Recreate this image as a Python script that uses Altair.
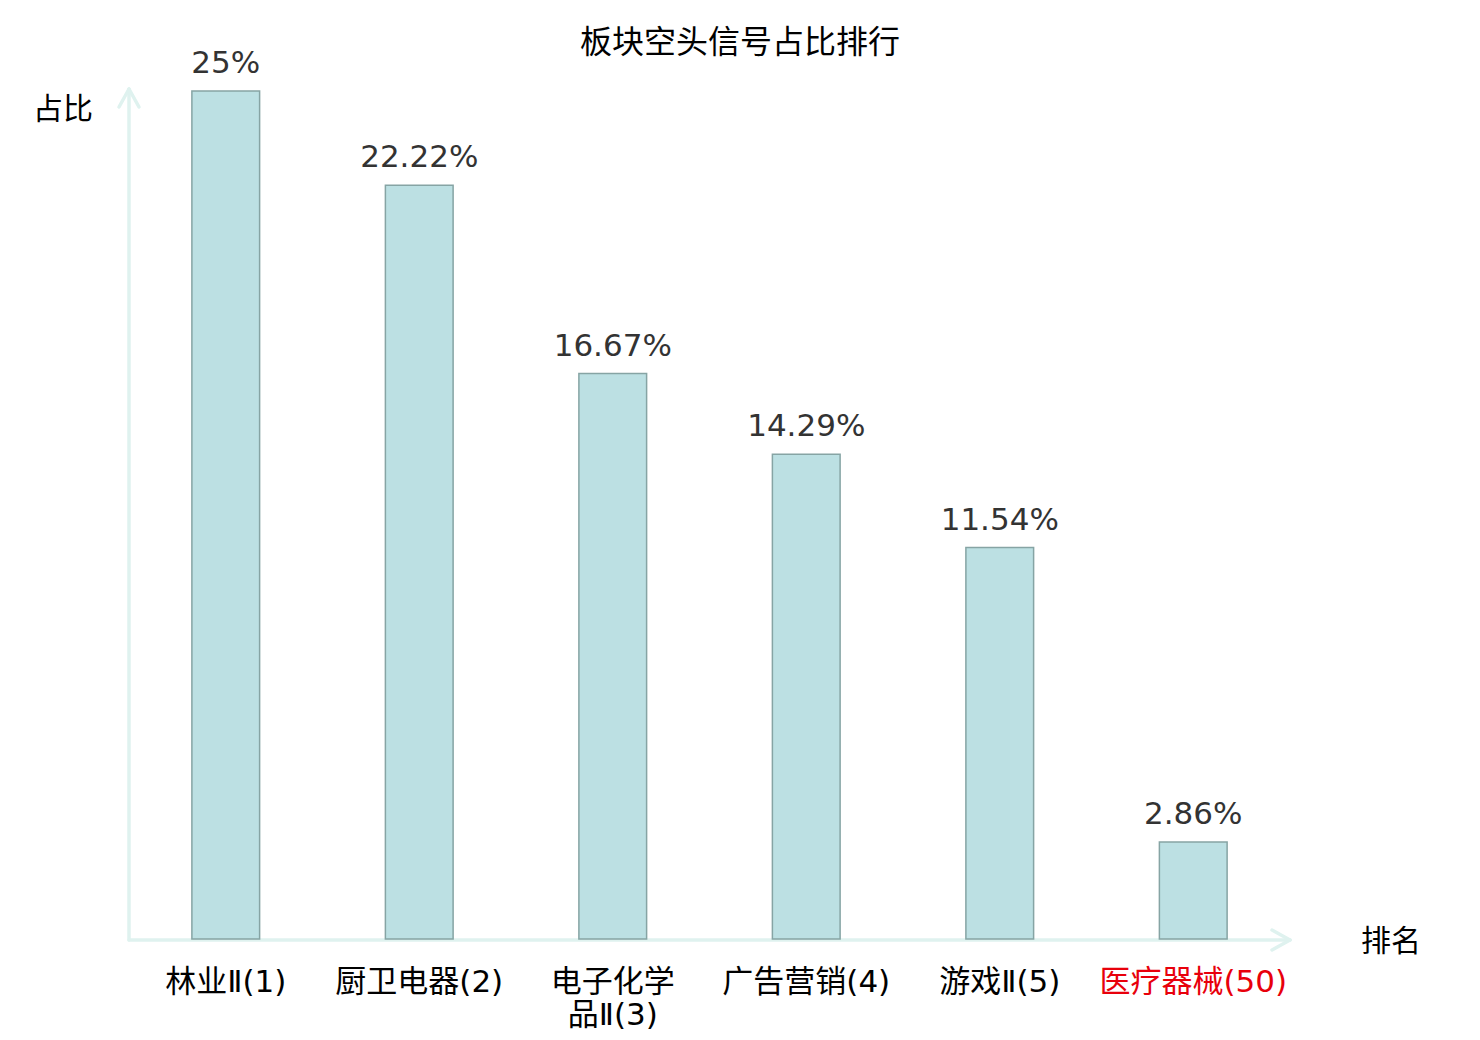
import altair as alt
import pandas as pd

categories = ["林业Ⅱ(1)", "厨卫电器(2)", "电子化学品Ⅱ(3)", "广告营销(4)", "游戏Ⅱ(5)", "医疗器械(50)"]
tick_labels = ["林业Ⅱ(1)", "厨卫电器(2)", "电子化学\n品Ⅱ(3)", "广告营销(4)", "游戏Ⅱ(5)", "医疗器械(50)"]
values = [25, 22.22, 16.67, 14.29, 11.54, 2.86]
value_labels = ["25%", "22.22%", "16.67%", "14.29%", "11.54%", "2.86%"]
label_colors = ["#000000", "#000000", "#000000", "#000000", "#000000", "#e8000b"]

title_text = "板块空头信号占比排行"
y_title = "占比"
x_title = "排名"

FONT = "DejaVu Sans, Noto Sans CJK SC"
W, H = 1161, 848
AXIS_COLOR = "#dff2ef"

df = pd.DataFrame({
    "cat": categories,
    "tick": tick_labels,
    "value": values,
    "vlabel": value_labels,
    "lcolor": label_colors,
})

xs = alt.X("cat:N", sort=categories,
           scale=alt.Scale(paddingInner=0.65, paddingOuter=0.325), axis=None)
ys = alt.Y("value:Q", scale=alt.Scale(domain=[0, 25], nice=False, zero=True), axis=None)

base = alt.Chart(df)

bars = base.mark_bar(fill="#bce0e3", stroke="#86a4a4", strokeWidth=1.5).encode(x=xs, y=ys)

vals = base.mark_text(font=FONT, fontSize=31, color="#333333", baseline="alphabetic", dy=-18).encode(
    x=xs, y=ys, text="vlabel:N")

ticks = base.mark_text(font=FONT, fontSize=31, baseline="top", dy=29, lineBreak="\n", lineHeight=33).encode(
    x=xs, y=alt.datum(0, type="quantitative"), text="tick:N",
    color=alt.Color("lcolor:N", scale=None))

one = pd.DataFrame({"a": [0]})
ob = alt.Chart(one)

def rule(x1, y1, x2, y2):
    return ob.mark_rule(color=AXIS_COLOR, strokeWidth=3.5, strokeCap="round").encode(
        x=alt.value(x1), x2=alt.value(x2), y=alt.value(y1), y2=alt.value(y2))

axes = [
    rule(0, H + 1, 0, -2),
    rule(-10, 16, 0, -2),
    rule(10, 16, 0, -2),
    rule(0, H + 1, W, H + 1),
    rule(W - 18, H - 9, W, H + 1),
    rule(W - 18, H + 11, W, H + 1),
]

title = ob.mark_text(font=FONT, fontSize=32, color="#000000", baseline="middle", align="center").encode(
    x=alt.value(611), y=alt.value(-48), text=alt.value(title_text))
ytitle = ob.mark_text(font=FONT, fontSize=30, color="#000000", baseline="middle", align="center").encode(
    x=alt.value(-66), y=alt.value(19), text=alt.value(y_title))
xtitle = ob.mark_text(font=FONT, fontSize=30, color="#000000", baseline="middle", align="center").encode(
    x=alt.value(1262), y=alt.value(851), text=alt.value(x_title))

chart = alt.layer(*axes, bars, vals, ticks, title, ytitle, xtitle).properties(
    width=W, height=H,
    background="white",
    autosize=alt.AutoSizeParams(type="none"),
    padding={"left": 121, "top": 83, "right": 180, "bottom": 100},
).configure_view(stroke="transparent", strokeWidth=0)

chart.save("out.html", embed_options={"renderer": "svg", "actions": False})
